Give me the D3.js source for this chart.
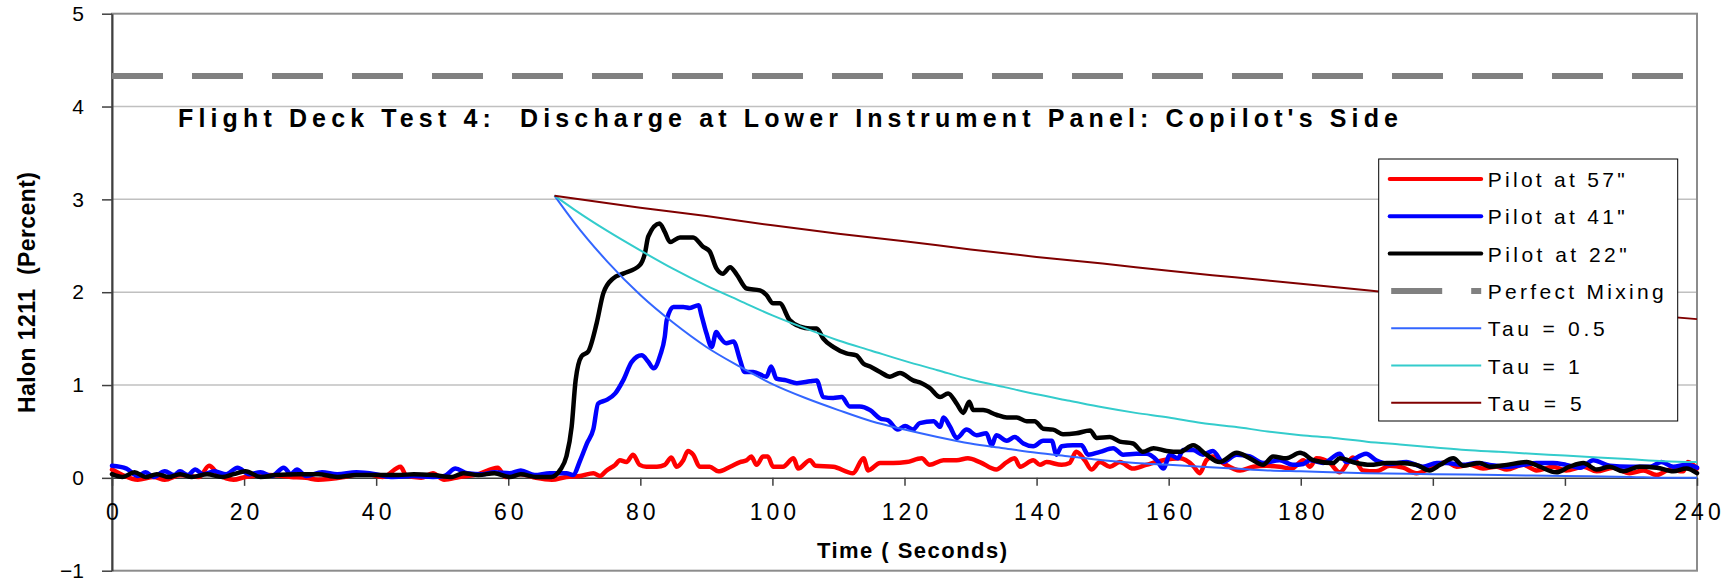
<!DOCTYPE html>
<html>
<head>
<meta charset="utf-8">
<script src="https://cdn.jsdelivr.net/npm/d3@7"></script>
<style>
  body { margin: 0; background: #fff; }
  svg { display: block; font-family: "Liberation Sans", Arial, sans-serif; }
  text { white-space: pre; }
</style>
</head>
<body>
<div id="app"></div>
<script>
// measured halon 1211 concentration, [time s, percent]
var pilot57 = [[0,0.09],[1.6,0.03],[3.9,-0.02],[6.3,0.01],[8,-0.02],[10.3,0.03],[13.2,0.01],[14.7,0.13],[16.1,0.04],[18.4,-0.02],[20.2,0.01],[23.7,0.03],[27.1,0.01],[29.4,0],[31.2,-0.02],[35.2,0.01],[38.1,0.05],[41,0.01],[43.7,0.12],[44.5,0.03],[46.8,0],[48.6,0.05],[50.3,-0.02],[52.6,0.01],[55.5,0.04],[58.4,0.11],[59.6,0.01],[61.9,0.04],[64.2,0],[66.6,-0.02],[68.8,0.01],[70.9,0.02],[72.9,0.05],[73.9,0.02],[74.9,0.08],[76.2,0.14],[76.9,0.19],[77.9,0.17],[78.9,0.25],[79.9,0.14],[80.9,0.12],[82.5,0.12],[83.7,0.14],[84.7,0.22],[85.5,0.12],[86.5,0.19],[87.2,0.29],[88,0.25],[89,0.12],[90.5,0.12],[91.8,0.07],[93.6,0.12],[95.1,0.17],[96.1,0.19],[96.8,0.23],[97.6,0.14],[98.6,0.23],[99.3,0.23],[100.1,0.12],[101.6,0.12],[103.2,0.21],[103.9,0.1],[105.7,0.19],[106.5,0.13],[109.2,0.12],[112.2,0.05],[113.8,0.21],[114.5,0.08],[116.3,0.16],[118.3,0.16],[120.3,0.17],[122.6,0.21],[123.8,0.14],[125.9,0.19],[127.9,0.19],[129.6,0.21],[131.4,0.17],[133.9,0.09],[135.5,0.17],[136.7,0.21],[137.5,0.12],[139.5,0.19],[140.5,0.14],[141.5,0.17],[143.8,0.14],[145,0.16],[146,0.28],[147.3,0.19],[148.3,0.09],[149.6,0.17],[151.1,0.12],[152.6,0.17],[154.6,0.1],[156.6,0.14],[159.2,0.19],[161.7,0.21],[163.7,0.13],[164.7,0.05],[165.7,0.19],[166.7,0.23],[168.2,0.16],[170.8,0.08],[172.8,0.12],[174.8,0.13],[176.8,0.12],[178.6,0.1],[180.4,0.19],[181.4,0.12],[182.4,0.21],[184.4,0.16],[185.9,0.06],[187.9,0.22],[189.4,0.08],[191.4,0.07],[193.5,0.13],[195.5,0.11],[197.5,0.05],[199.5,0.1],[202.1,0.17],[203.6,0.12],[205.6,0.14],[207.6,0.1],[209.6,0.12],[211.2,0.09],[213.7,0.14],[215.7,0.08],[218.2,0.12],[220.2,0.08],[222.8,0.12],[224.8,0.07],[227.3,0.11],[229.8,0.05],[231.9,0.08],[233.9,0.03],[235.9,0.09],[237.9,0.07],[238.6,0.17],[240,0.1]]

var pilot41 = [[0,0.13],[2.2,0.1],[3.9,0.02],[5.1,0.06],[6.3,0.01],[8,0.07],[9.4,0.03],[10.3,0.07],[11.5,0.03],[12.6,0.09],[13.8,0.04],[15.5,0.07],[17.3,0.04],[19,0.11],[20.8,0.04],[22.5,0.06],[24.2,0.02],[26,0.11],[27.1,0.04],[28,0.09],[29.4,0.02],[31.8,0.06],[34.1,0.04],[37,0.06],[39.9,0.04],[42.2,0.01],[45.7,0.02],[48.6,0.01],[50.3,0.02],[52,0.1],[53.8,0.05],[56.1,0.04],[57.9,0.06],[60.2,0.05],[61.9,0.08],[64,0.03],[66.3,0.05],[68.8,0.05],[69.8,0.03],[70.9,0.19],[71.9,0.37],[72.9,0.53],[73.6,0.8],[74.9,0.84],[76.2,0.91],[77.4,1.05],[78.7,1.25],[80.2,1.32],[81.2,1.25],[82,1.18],[83,1.32],[83.7,1.52],[84,1.7],[85,1.84],[86.5,1.84],[87.5,1.83],[88.8,1.86],[89.3,1.74],[90,1.56],[90.8,1.41],[91.5,1.57],[92,1.52],[93,1.45],[94.1,1.47],[95.1,1.27],[95.8,1.14],[97.1,1.14],[99.1,1.09],[99.8,1.2],[100.6,1.07],[102.1,1.05],[103.7,1.02],[105.7,1.04],[106.7,1.05],[107.7,0.87],[109.2,0.86],[110.5,0.87],[111.7,0.77],[113.2,0.77],[114.8,0.73],[116.3,0.64],[117.5,0.62],[119,0.52],[120.1,0.56],[121.3,0.52],[122.3,0.59],[124.4,0.61],[125.4,0.55],[125.9,0.65],[126.9,0.55],[127.9,0.43],[129.4,0.52],[130.9,0.46],[132.4,0.48],[133.2,0.35],[133.9,0.46],[135.5,0.4],[136.7,0.44],[138,0.37],[139.5,0.34],[141,0.4],[142.3,0.4],[143,0.25],[143.8,0.34],[145.5,0.35],[146.8,0.35],[147.8,0.25],[149.6,0.28],[151.6,0.32],[153.1,0.25],[155.1,0.26],[156.6,0.26],[158.2,0.19],[159.2,0.1],[160.2,0.25],[161.4,0.21],[162.2,0.3],[163.7,0.3],[165.2,0.25],[166.7,0.29],[168.2,0.17],[170.3,0.25],[172.3,0.23],[174.3,0.16],[176.8,0.19],[178.8,0.14],[180.4,0.15],[181.4,0.19],[183.4,0.16],[185.9,0.26],[186.9,0.17],[189.9,0.26],[191.4,0.19],[193.5,0.15],[196,0.17],[198.5,0.12],[200.6,0.16],[202.1,0.16],[204.6,0.14],[206.6,0.16],[208.6,0.14],[211.2,0.12],[213.7,0.14],[215.7,0.16],[218.2,0.16],[220.2,0.14],[222.3,0.11],[224.3,0.19],[226.8,0.13],[229.8,0.12],[232.9,0.12],[234.6,0.17],[236.4,0.12],[238.4,0.14],[240,0.11]]

var pilot22 = [[0,0.04],[1.6,0.01],[3.4,0.06],[5.1,0.01],[6.8,0.04],[8.6,0.01],[10.3,0.04],[12.1,0.01],[14.4,0.04],[16.7,0.01],[18.4,0.04],[20.2,0.07],[22.5,0.01],[24.8,0.03],[28.3,0.04],[31.2,0.04],[34.1,0.01],[37,0.03],[39.9,0.03],[43.4,0.03],[45.7,0.04],[48.6,0.03],[51.5,0.01],[53.2,0.05],[55.5,0.03],[57.9,0.05],[60.2,0.01],[61.9,0.04],[64.2,0.01],[66.5,0.01],[67.9,0.09],[68.8,0.23],[69.6,0.55],[70.2,1.05],[71.1,1.31],[72.1,1.36],[73.4,1.67],[74.4,1.99],[75.9,2.15],[77.4,2.2],[79.9,2.29],[80.7,2.42],[81.2,2.6],[82.9,2.74],[83.7,2.65],[84.5,2.54],[86,2.59],[88,2.59],[89.5,2.49],[90.5,2.44],[91.5,2.26],[92.5,2.2],[93.6,2.27],[94.6,2.19],[96.1,2.04],[98.1,2.02],[99.1,1.97],[100.1,1.88],[101.1,1.88],[102.6,1.7],[104.2,1.63],[105.7,1.61],[106.7,1.61],[107.7,1.5],[109.2,1.41],[111.2,1.34],[112.7,1.32],[113.8,1.23],[114.8,1.2],[116.3,1.14],[117.8,1.09],[119.3,1.13],[121.3,1.05],[122.6,1.02],[123.8,0.97],[125.4,0.87],[126.6,0.91],[127.9,0.8],[128.9,0.7],[129.8,0.82],[130.4,0.73],[131.9,0.73],[133.9,0.68],[135.5,0.65],[137,0.65],[138.5,0.61],[139.7,0.61],[141,0.53],[142.5,0.52],[144,0.47],[146,0.48],[148.1,0.51],[149.1,0.43],[151.1,0.44],[152.6,0.39],[154.6,0.37],[156.1,0.28],[157.7,0.32],[159.7,0.29],[161.7,0.28],[163.7,0.35],[165.7,0.25],[167.7,0.17],[170.3,0.27],[172.3,0.21],[174.3,0.14],[175.8,0.23],[177.8,0.21],[179.9,0.27],[180.4,0.26],[181.9,0.19],[184.9,0.16],[185.9,0.21],[188.4,0.16],[190.5,0.14],[193,0.16],[195,0.16],[197.5,0.14],[199.5,0.08],[201.1,0.14],[203.1,0.21],[204.6,0.13],[207.1,0.16],[208.6,0.12],[211.2,0.14],[214.2,0.17],[216.2,0.12],[218.7,0.06],[220.7,0.12],[222.8,0.16],[224.8,0.09],[226.8,0.12],[228.8,0.07],[231.3,0.12],[233.9,0.11],[236.4,0.07],[238.4,0.1],[240,0.05]]

// model curves
var perfectMixing = [[0,4.33],[240,4.33]]

var tau05 = [[67,3.04],[70,2.75],[75,2.33],[80,1.97],[85,1.67],[90,1.41],[95,1.2],[100,1.01],[105,0.86],[110,0.73],[115,0.61],[120,0.52],[125,0.44],[130,0.37],[135,0.32],[140,0.27],[145,0.23],[150,0.19],[155,0.16],[160,0.14],[165,0.12],[170,0.1],[175,0.08],[180,0.07],[190,0.05],[200,0.04],[210,0.03],[220,0.02],[230,0.01],[235,0],[240,0]]

var tau1 = [[67,3.04],[70,2.89],[75,2.66],[80,2.45],[85,2.25],[90,2.07],[95,1.91],[100,1.75],[105,1.61],[110,1.48],[115,1.37],[120,1.26],[125,1.16],[130,1.06],[135,0.98],[140,0.9],[145,0.83],[150,0.76],[155,0.7],[160,0.65],[165,0.59],[170,0.55],[175,0.5],[180,0.46],[185,0.43],[190,0.39],[195,0.36],[200,0.33],[205,0.3],[210,0.28],[215,0.26],[220,0.24],[225,0.22],[230,0.2],[235,0.18],[240,0.17]]

var tau5 = [[67,3.04],[80,2.91],[90,2.82],[100,2.72],[110,2.63],[120,2.55],[130,2.46],[140,2.38],[150,2.31],[160,2.23],[170,2.16],[180,2.09],[190,2.02],[200,1.95],[210,1.89],[220,1.83],[230,1.77],[240,1.71]]

var xTicks = [0, 20, 40, 60, 80, 100, 120, 140, 160, 180, 200, 220, 240]
var yTicks = [-1, 0, 1, 2, 3, 4, 5]

var legendNames = ['Pilot at 57"', 'Pilot at 41"', 'Pilot at 22"', 'Perfect Mixing', 'Tau = 0.5', 'Tau = 1', 'Tau = 5']

var W = 1734, H = 583
var margin = { top: 13.7, right: 37, bottom: 12.3, left: 112 }
var innerW = W - margin.left - margin.right
var innerH = H - margin.top - margin.bottom

var svg = d3.select("#app")
  .append("svg")
  .attr("width", W)
  .attr("height", H)

var g = svg.append("g")
  .attr("transform", "translate(" + margin.left + "," + margin.top + ")")

var x = d3.scaleLinear().domain([0, 240]).range([0, innerW])
var y = d3.scaleLinear().domain([-1, 5]).range([innerH, 0])

// gridlines
g.selectAll(".grid")
  .data([1, 2, 3, 4])
  .enter()
  .append("line")
  .attr("x1", 0)
  .attr("x2", innerW)
  .attr("y1", d => y(d))
  .attr("y2", d => y(d))
  .attr("stroke", "#c0c0c0")
  .attr("stroke-width", 1.5)

// plot frame
g.append("rect")
  .attr("width", innerW)
  .attr("height", innerH)
  .attr("fill", "none")
  .attr("stroke", "#8c8c8c")
  .attr("stroke-width", 2)

// y axis
var yAxis = g.append("g")
  .call(d3.axisLeft(y).tickValues(yTicks).tickFormat(d3.format("d")).tickSize(10).tickSizeOuter(0).tickPadding(18))
yAxis.select(".domain").attr("stroke", "#404040").attr("stroke-width", 2)
yAxis.selectAll(".tick line").attr("stroke", "#404040").attr("stroke-width", 1.5)
yAxis.selectAll("text")
  .attr("font-size", 21)
  .attr("font-family", "Liberation Sans, Arial, sans-serif")
  .attr("fill", "#000")

// x axis sits on zero
var xAxis = g.append("g")
  .attr("transform", "translate(0," + y(0) + ")")
  .call(d3.axisBottom(x).tickValues(xTicks).tickSize(8).tickSizeOuter(0).tickPadding(18))
xAxis.select(".domain").attr("stroke", "#404040").attr("stroke-width", 1.5)
xAxis.selectAll(".tick line").attr("stroke", "#404040").attr("stroke-width", 1.5)
xAxis.selectAll("text")
  .attr("font-size", 23)
  .attr("font-family", "Liberation Sans, Arial, sans-serif")
  .attr("fill", "#000")
  .attr("dx", 2)
  .style("letter-spacing", "4px")

var line = d3.line()
  .x(d => x(d[0]))
  .y(d => y(d[1]))

var smooth = d3.line()
  .x(d => x(d[0]))
  .y(d => y(d[1]))
  .curve(d3.curveMonotoneX)

// perfect mixing
g.append("path")
  .datum(perfectMixing)
  .attr("d", line)
  .attr("fill", "none")
  .attr("stroke", "#808080")
  .attr("stroke-width", 6)
  .attr("stroke-dasharray", "51,29")

// measured series
var measured = [
  { data: pilot57, color: "#ff0000" },
  { data: pilot41, color: "#0000ff" },
  { data: pilot22, color: "#000000" }
]
measured.forEach(s => {
  g.append("path")
    .datum(s.data)
    .attr("d", smooth)
    .attr("fill", "none")
    .attr("stroke", s.color)
    .attr("stroke-width", 4.5)
    .attr("stroke-linejoin", "round")
    .attr("stroke-linecap", "round")
})

// tau decay curves
var models = [
  { data: tau05, color: "#3366ff" },
  { data: tau1, color: "#33cccc" },
  { data: tau5, color: "#800000" }
]
models.forEach(s => {
  g.append("path")
    .datum(s.data)
    .attr("d", smooth)
    .attr("fill", "none")
    .attr("stroke", s.color)
    .attr("stroke-width", 2)
})

// title
svg.append("text")
  .attr("x", 178)
  .attr("y", 126.5)
  .attr("font-size", 25)
  .attr("font-weight", "bold")
  .attr("textLength", 1220)
  .attr("lengthAdjust", "spacing")
  .text("Flight Deck Test 4:  Discharge at Lower Instrument Panel: Copilot's Side")

// axis titles
svg.append("text")
  .attr("transform", "translate(35,292.5) rotate(-90)")
  .attr("text-anchor", "middle")
  .attr("font-size", 23)
  .attr("font-weight", "bold")
  .attr("textLength", 241)
  .attr("lengthAdjust", "spacing")
  .text("Halon 1211  (Percent)")

svg.append("text")
  .attr("x", 912)
  .attr("y", 558)
  .attr("text-anchor", "middle")
  .attr("font-size", 22)
  .attr("font-weight", "bold")
  .attr("textLength", 190)
  .attr("lengthAdjust", "spacing")
  .text("Time ( Seconds)")

// legend
var legendStyles = [
  { color: "#ff0000", width: 4, dash: null, w: 137 },
  { color: "#0000ff", width: 4, dash: null, w: 137 },
  { color: "#000000", width: 4, dash: null, w: 139 },
  { color: "#808080", width: 6, dash: "51,29", w: 176 },
  { color: "#3366ff", width: 2, dash: null, w: 117 },
  { color: "#33cccc", width: 2, dash: null, w: 92 },
  { color: "#800000", width: 2, dash: null, w: 94 }
]

var legend = svg.append("g")
  .attr("transform", "translate(1378.7,159)")

legend.append("rect")
  .attr("width", 299)
  .attr("height", 262)
  .attr("fill", "#fff")
  .attr("stroke", "#000")
  .attr("stroke-width", 1)

var rows = legend.selectAll(".row")
  .data(legendNames)
  .enter()
  .append("g")
  .attr("class", "row")
  .attr("transform", (d, i) => "translate(0," + (20 + i * 37.3) + ")")

rows.append("line")
  .attr("x1", (d, i) => i < 3 ? 11 : 12.5)
  .attr("x2", 102.5)
  .attr("stroke", (d, i) => legendStyles[i].color)
  .attr("stroke-width", (d, i) => legendStyles[i].width)
  .attr("stroke-linecap", (d, i) => i < 3 ? "round" : "butt")
  .attr("stroke-dasharray", (d, i) => legendStyles[i].dash)

rows.append("text")
  .attr("x", 109)
  .attr("y", 8)
  .attr("font-size", 21)
  .attr("textLength", (d, i) => legendStyles[i].w)
  .attr("lengthAdjust", "spacing")
  .text(d => d)
</script>
</body>
</html>
